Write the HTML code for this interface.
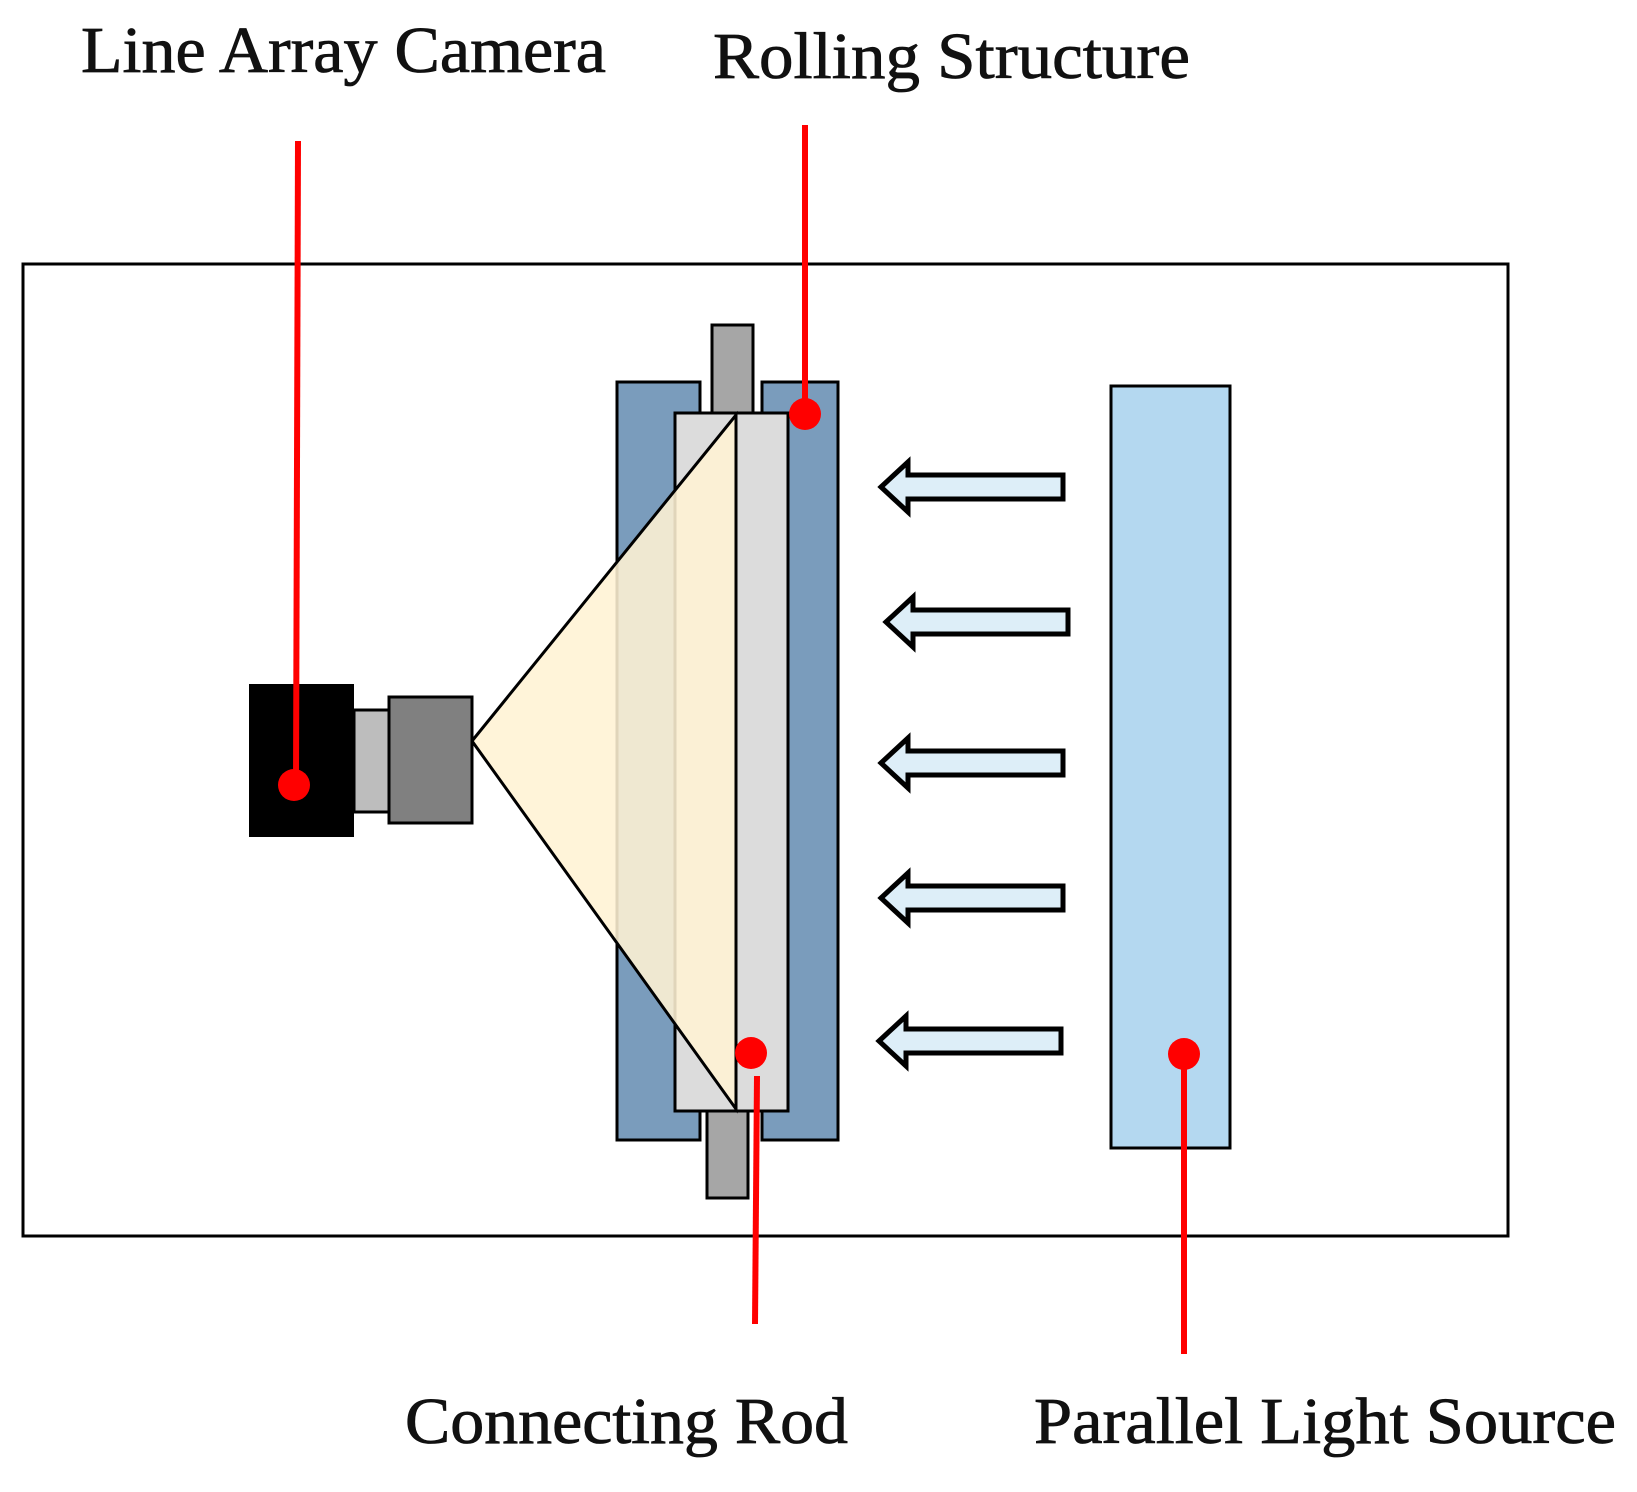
<!DOCTYPE html>
<html><head><meta charset="utf-8"><style>html,body{margin:0;padding:0;background:#fff}</style></head>
<body>
<svg width="1637" height="1487" viewBox="0 0 1637 1487" xmlns="http://www.w3.org/2000/svg" font-family="Liberation Serif, serif">
<rect x="23" y="264" width="1485" height="972" fill="#fff" stroke="#000" stroke-width="3"/>
<rect x="617" y="382" width="83" height="758" fill="#7a9cbc" stroke="#000" stroke-width="3"/>
<rect x="762" y="382" width="76" height="758" fill="#7a9cbc" stroke="#000" stroke-width="3"/>
<rect x="712" y="325" width="41" height="88" fill="#a6a6a6" stroke="#000" stroke-width="3"/>
<rect x="707" y="1111" width="41" height="87" fill="#a6a6a6" stroke="#000" stroke-width="3"/>
<rect x="675" y="413" width="113" height="698" fill="#dcdcdc" stroke="#000" stroke-width="3"/>
<line x1="736" y1="413" x2="736" y2="1111" stroke="#000" stroke-width="3"/>
<polygon points="472,741 736,415 736,1109" fill="#fff2d4" fill-opacity="0.88" stroke="#000" stroke-width="3"/>
<rect x="249" y="684" width="105" height="153" fill="#000"/>
<rect x="354" y="710" width="36" height="102" fill="#bdbdbd" stroke="#000" stroke-width="3"/>
<rect x="389" y="697" width="83" height="126" fill="#808080" stroke="#000" stroke-width="3"/>
<rect x="1111" y="386" width="119" height="762" fill="#b4d8f0" stroke="#000" stroke-width="3"/>
<g fill="#ddeef8" stroke="#000" stroke-width="5" stroke-linejoin="miter">
<polygon points="881,487 908,462 908,475 1063,475 1063,499 908,499 908,512"/>
<polygon points="886,622 913,597 913,610 1068,610 1068,634 913,634 913,647"/>
<polygon points="881,763 908,738 908,751 1063,751 1063,775 908,775 908,788"/>
<polygon points="881,898 908,873 908,886 1063,886 1063,910 908,910 908,923"/>
<polygon points="879,1041 906,1016 906,1029 1061,1029 1061,1053 906,1053 906,1066"/>
</g>
<g stroke="#ff0000" stroke-width="6" fill="none">
<line x1="298" y1="141" x2="296" y2="785"/>
<line x1="805" y1="125" x2="805" y2="415"/>
<line x1="757" y1="1076" x2="755" y2="1324"/>
<line x1="1184" y1="1054" x2="1184" y2="1354"/>
</g>
<g fill="#ff0000">
<circle cx="294" cy="785" r="16"/>
<circle cx="805" cy="414" r="16"/>
<circle cx="751" cy="1053" r="16"/>
<circle cx="1184" cy="1054" r="16"/>
</g>
<g font-size="66" fill="#111" stroke="#111" stroke-width="0.8">
<text x="81" y="72" textLength="525" lengthAdjust="spacingAndGlyphs">Line Array Camera</text>
<text x="713" y="78" textLength="477" lengthAdjust="spacingAndGlyphs">Rolling Structure</text>
<text x="405" y="1443" textLength="443" lengthAdjust="spacingAndGlyphs">Connecting Rod</text>
<text x="1034" y="1443" textLength="582" lengthAdjust="spacingAndGlyphs">Parallel Light Source</text>
</g>
</svg>
</body></html>
